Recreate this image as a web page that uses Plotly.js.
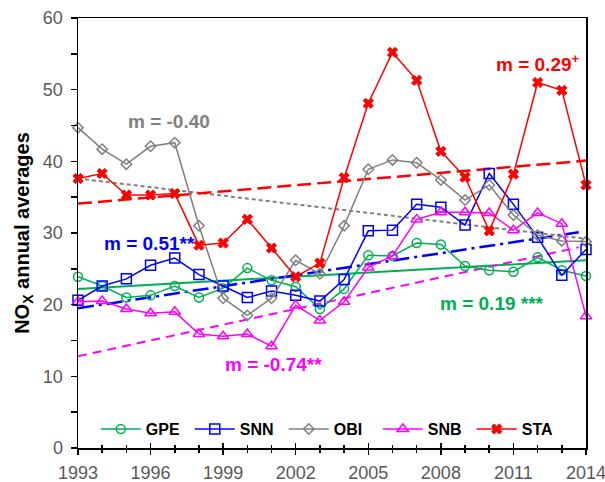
<!DOCTYPE html>
<html>
<head>
<meta charset="utf-8">
<script src="https://cdn.plot.ly/plotly-3.0.1.min.js"></script>
<style>html,body{margin:0;padding:0;background:#fff;}#chart{width:605px;height:482px;}</style>
</head>
<body>
<div id="chart"></div>
<script>
// ---- Data ----
const years = [1993,1994,1995,1996,1997,1998,1999,2000,2001,2002,2003,2004,2005,2006,2007,2008,2009,2010,2011,2012,2013,2014];
const gpe = [23.9,22.6,21.0,21.3,22.6,21.0,22.3,25.1,23.4,22.5,19.4,22.2,26.9,26.8,28.6,28.4,25.4,24.8,24.6,26.6,24.8,24.0];
const snn = [20.6,22.6,23.6,25.5,26.5,24.2,22.6,21.0,21.9,21.3,20.5,23.5,30.3,30.4,34.0,33.6,31.1,38.3,34.0,29.4,24.1,27.7];
const obi = [44.7,41.7,39.6,42.1,42.6,31.0,20.9,18.5,20.9,26.2,24.3,31.0,38.9,40.2,39.8,37.4,34.6,36.7,32.5,29.7,28.9,28.8];
const snb = [20.4,20.5,19.4,18.8,19.0,15.9,15.6,15.9,14.2,19.9,17.8,20.4,25.2,26.8,31.9,32.9,32.9,32.8,30.4,32.8,31.3,18.4];
const sta = [37.6,38.3,35.3,35.3,35.5,28.3,28.6,31.9,27.9,23.9,25.8,37.7,48.1,55.2,51.3,41.4,37.8,30.3,38.2,51.0,49.9,36.7];

// trend lines (start / end)
const trendX = [1993, 2014];
const trendXShort = [1993, 2013.7];
const gpeTrend = [22.2, 26.2];
const snnTrend = [19.5, 30.1];
const obiTrend = [37.6, 29.2];
const snbTrend = [12.8, 28.0];
const staTrend = [34.1, 40.1];

const seriesNames = ['GPE','SNN','OBI','SNB','STA'];
const slopeLabels = ['m = 0.19 ***','m = 0.51**','m = -0.40','m = -0.74**','m = 0.29<sup>+</sup>'];
const slopeLabelX = [2010.1, 1995.95, 1996.75, 2001.1, 2012.0];
const slopeLabelY = [20.1, 28.6, 45.5, 11.6, 53.7];

const xTicks = [1993,1996,1999,2002,2005,2008,2011,2014];
const yTicks = [0,10,20,30,40,50,60];

// ---- Styles ----
const colors = ['#00B050','#0000FF','#808080','#FF00FF','#FF0000'];
const FONT = 'Liberation Sans, Arial, Helvetica, sans-serif';

const traces = [];
// trends first
const trendDefs = [
  {x: trendX, y: gpeTrend, c: 0, dash: 'solid', w: 2},
  {x: trendXShort, y: snnTrend, c: 1, dash: '16px,5px,3px,5px', w: 2.5},
  {x: trendX, y: obiTrend, c: 2, dash: '4px,3px', w: 2},
  {x: trendXShort, y: snbTrend, c: 3, dash: '9px,6px', w: 2},
  {x: trendX, y: staTrend, c: 4, dash: '14px,6px', w: 2.5}
];
trendDefs.forEach(t => traces.push({
  x: t.x, y: t.y, mode: 'lines', type: 'scatter', showlegend: false, hoverinfo: 'skip',
  line: {color: colors[t.c], width: t.w, dash: t.dash}, cliponaxis: false
}));

const seriesData = [gpe, snn, obi, snb, sta];
const symbols = ['circle-open','square-open','diamond-open','triangle-up-open','x'];
const sizes = [9, 10, 8, 10, 9];
const mlw = [1.5, 1.5, 1.5, 1.5, 1];
seriesData.forEach((d, i) => traces.push({
  x: years, y: d, name: seriesNames[i], type: 'scatter', mode: 'lines+markers',
  line: {color: colors[i], width: 1.5},
  marker: {symbol: symbols[i], size: sizes[i], color: colors[i], line: {color: colors[i], width: mlw[i]}},
  cliponaxis: false
}));
// dummy trace for the overlaid inside-tick axis
traces.push({x: [], y: [], xaxis: 'x2', showlegend: false, hoverinfo: 'skip', type: 'scatter'});

const annotations = slopeLabels.map((t, i) => ({
  x: slopeLabelX[i], y: slopeLabelY[i], xref: 'x', yref: 'y', text: '<b>' + t + '</b>',
  showarrow: false, xanchor: 'center', yanchor: 'middle',
  font: {family: FONT, size: 19, color: colors[i]}
}));

const layout = {
  width: 605, height: 482,
  margin: {l: 78, r: 19, t: 18, b: 34},
  paper_bgcolor: '#fff', plot_bgcolor: '#fff',
  font: {family: FONT},
  showlegend: true,
  legend: {
    orientation: 'h', x: 0.035, xanchor: 'left', y: 0.044, yanchor: 'middle',
    font: {family: FONT, size: 16, color: '#000', weight: 'bold'},
    bgcolor: 'rgba(0,0,0,0)', itemwidth: 40, entrywidth: 39
  },
  xaxis: {
    range: [1993, 2014], tickmode: 'array', tickvals: xTicks, ticktext: xTicks.map(String),
    ticks: 'outside', ticklen: 5, tickwidth: 1.5, tickcolor: '#000',
    minor: {dtick: 1, tick0: 1993, ticks: 'outside', ticklen: 3, tickwidth: 1.5, tickcolor: '#000', showgrid: false},
    showline: true, linecolor: '#000', linewidth: 1.5, mirror: true,
    showgrid: false, zeroline: false, ticklabeloverflow: 'allow', ticklabelstandoff: 3,
    tickfont: {family: FONT, size: 18, color: '#595959'}
  },
  xaxis2: {
    range: [1993, 2014], overlaying: 'x', anchor: 'y', side: 'bottom',
    tickmode: 'array', tickvals: xTicks, showticklabels: false,
    ticks: 'inside', ticklen: 5, tickwidth: 1.5, tickcolor: '#000',
    minor: {dtick: 1, tick0: 1993, ticks: 'inside', ticklen: 3, tickwidth: 1.5, tickcolor: '#000', showgrid: false},
    showline: false, showgrid: false, zeroline: false
  },
  yaxis: {
    range: [0, 60], tickmode: 'array', tickvals: yTicks, ticktext: yTicks.map(String),
    ticks: 'outside', ticklen: 6, tickwidth: 1.5, tickcolor: '#000',
    minor: {dtick: 5, tick0: 0, ticks: 'outside', ticklen: 6, tickwidth: 1.5, tickcolor: '#000', showgrid: false},
    showline: true, linecolor: '#000', linewidth: 1.5, mirror: true,
    showgrid: false, zeroline: false,
    tickfont: {family: FONT, size: 18, color: '#595959'},
    ticklabelstandoff: 4,
    title: {text: '<b>NO<sub>X</sub> annual averages</b>', font: {family: FONT, size: 20, color: '#000'}, standoff: 8}
  },
  annotations: annotations
};

Plotly.newPlot('chart', traces, layout, {staticPlot: true, displayModeBar: false});
</script>
</body>
</html>
